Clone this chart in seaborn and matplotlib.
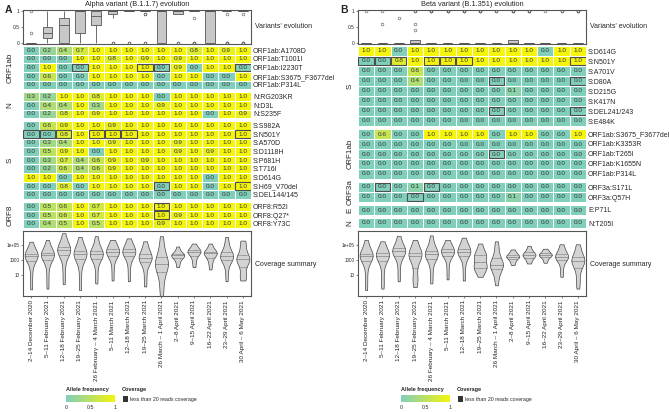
import matplotlib as mpl
import matplotlib.pyplot as plt
from matplotlib.colors import LinearSegmentedColormap
from matplotlib.patches import Rectangle
import pandas as pd
import seaborn as sns

weeks = ['2–14 December 2020', '5–11 February 2021', '12–18 February 2021',
         '19–25 February 2021', '26 February – 4 March 2021', '5–11 March 2021',
         '12–18 March 2021', '19–25 March 2021', '26 March – 1 April 2021',
         '2–8 April 2021', '9–15 April 2021', '16–22 April 2021',
         '23–29 April 2021', '30 April – 6 May 2021']

# ---- Alpha (B.1.1.7) ----
alpha_mutations = ['ORF1ab:A1708D', 'ORF1ab:T1001I', 'ORF1ab:I2230T', 'ORF1ab:S3675_F3677del', 'ORF1ab:P314L',
                   'N:RG203KR', 'N:D3L', 'N:S235F',
                   'S:S982A', 'S:N501Y', 'S:A570D', 'S:D1118H', 'S:P681H', 'S:T716I', 'S:D614G',
                   'S:H69_V70del', 'S:DEL144/145',
                   'ORF8:R52I', 'ORF8:Q27*', 'ORF8:Y73C']
alpha_genes = ['ORF1ab'] * 5 + ['N'] * 3 + ['S'] * 9 + ['ORF8'] * 3
alpha_freq = [
    [0.0, 0.2, 0.4, 0.7, 1.0, 1.0, 1.0, 1.0, 1.0, 1.0, 0.8, 1.0, 0.9, 1.0],
    [0.0, 0.0, 0.0, 1.0, 1.0, 0.8, 1.0, 0.9, 1.0, 0.9, 1.0, 1.0, 1.0, 1.0],
    [0.0, 1.0, 0.0, 0.0, 1.0, 1.0, 1.0, 1.0, 0.0, 0.9, 0.0, 1.0, 1.0, 0.0],
    [0.0, 0.6, 0.0, 0.0, 1.0, 1.0, 1.0, 1.0, 0.0, 1.0, 1.0, 0.0, 0.0, 1.0],
    [0.0, 0.0, 0.0, 0.0, 0.0, 0.0, 0.0, 0.0, 0.0, 0.0, 0.0, 0.0, 0.0, 0.0],
    [0.3, 0.2, 1.0, 1.0, 0.8, 1.0, 1.0, 1.0, 0.0, 1.0, 1.0, 1.0, 1.0, 1.0],
    [0.0, 0.4, 0.4, 1.0, 0.3, 1.0, 1.0, 1.0, 0.9, 1.0, 1.0, 1.0, 1.0, 1.0],
    [0.0, 0.2, 0.8, 1.0, 0.9, 1.0, 1.0, 1.0, 1.0, 1.0, 1.0, 0.0, 1.0, 0.9],
    [0.0, 0.6, 0.9, 1.0, 1.0, 0.9, 1.0, 1.0, 1.0, 1.0, 1.0, 1.0, 1.0, 1.0],
    [0.0, 0.0, 0.8, 1.0, 1.0, 1.0, 1.0, 1.0, 1.0, 1.0, 1.0, 1.0, 1.0, 1.0],
    [0.0, 0.3, 0.4, 1.0, 1.0, 0.9, 1.0, 1.0, 1.0, 0.9, 1.0, 1.0, 1.0, 1.0],
    [0.0, 0.5, 0.9, 1.0, 0.0, 1.0, 1.0, 1.0, 1.0, 0.9, 1.0, 0.9, 1.0, 1.0],
    [0.0, 0.3, 0.7, 0.4, 0.6, 0.9, 1.0, 0.9, 1.0, 1.0, 1.0, 1.0, 1.0, 1.0],
    [0.0, 0.2, 0.6, 0.4, 0.6, 0.9, 1.0, 1.0, 1.0, 1.0, 1.0, 1.0, 1.0, 1.0],
    [1.0, 1.0, 0.0, 1.0, 1.0, 1.0, 1.0, 1.0, 1.0, 1.0, 1.0, 0.0, 1.0, 1.0],
    [0.0, 0.0, 0.8, 0.0, 1.0, 1.0, 1.0, 1.0, 0.0, 1.0, 1.0, 0.0, 1.0, 1.0],
    [0.0, 0.0, 0.0, 0.0, 0.0, 0.0, 0.0, 0.0, 0.0, 0.0, 0.0, 0.0, 0.0, 0.0],
    [0.0, 0.5, 0.6, 1.0, 0.7, 1.0, 1.0, 1.0, 1.0, 1.0, 1.0, 1.0, 1.0, 1.0],
    [0.0, 0.5, 0.6, 1.0, 0.7, 1.0, 1.0, 1.0, 1.0, 0.9, 1.0, 1.0, 1.0, 1.0],
    [0.0, 0.4, 0.5, 1.0, 0.5, 1.0, 1.0, 1.0, 0.9, 1.0, 1.0, 1.0, 1.0, 1.0],
]
# cells with less than 20 reads coverage (mutation, week index)
alpha_lowcov = [('ORF1ab:I2230T', 3), ('ORF1ab:I2230T', 7), ('ORF1ab:I2230T', 8), ('ORF1ab:I2230T', 13),
                ('S:N501Y', 0), ('S:N501Y', 1), ('S:N501Y', 2), ('S:N501Y', 4), ('S:N501Y', 5),
                ('S:N501Y', 6), ('S:N501Y', 13), ('S:H69_V70del', 8), ('S:H69_V70del', 13),
                ('ORF8:R52I', 8), ('ORF8:Q27*', 8)]
# coverage per week, log10(reads)
alpha_coverage = [
    [-1.0, 0.5, 1.8, 2.8, 3.2, 3.4, 3.5, 3.6, 3.6, 3.7, 3.9, 4.2, 4.6, 5.45],
    [-0.9, 0.5, 1.9, 2.9, 3.3, 3.5, 3.6, 3.7, 3.7, 3.8, 4.0, 4.3, 4.8, 5.7],
    [-0.3, 1.2, 2.5, 3.5, 3.9, 4.1, 4.3, 4.3, 4.4, 4.6, 4.8, 5.2, 5.8, 6.6],
    [-1.1, 0.5, 2.0, 3.0, 3.4, 3.6, 3.7, 3.8, 3.9, 4.0, 4.3, 4.7, 5.3, 6.1],
    [-0.2, 1.0, 2.3, 3.1, 3.4, 3.6, 3.7, 3.8, 3.9, 4.0, 4.3, 4.7, 5.4, 6.2],
    [0.2, 1.5, 2.7, 3.4, 3.7, 3.9, 4.0, 4.1, 4.2, 4.3, 4.6, 4.9, 5.3, 5.7],
    [0.1, 1.4, 2.6, 3.4, 3.7, 3.9, 4.0, 4.1, 4.2, 4.3, 4.6, 4.9, 5.4, 5.9],
    [-0.6, 0.6, 1.8, 2.6, 2.9, 3.1, 3.2, 3.3, 3.4, 3.6, 3.9, 4.3, 4.9, 5.5],
    [-2.0, -0.8, 0.3, 1.2, 1.8, 2.1, 2.3, 2.5, 2.7, 3.0, 3.5, 4.1, 5.0, 6.2],
    [2.0, 2.5, 2.9, 3.2, 3.4, 3.5, 3.6, 3.6, 3.7, 3.8, 4.0, 4.3, 4.8],
    [2.0, 2.6, 3.1, 3.5, 3.8, 4.0, 4.1, 4.1, 4.2, 4.3, 4.5, 4.8, 5.2],
    [1.7, 2.4, 2.9, 3.3, 3.6, 3.8, 3.9, 3.9, 4.0, 4.1, 4.3, 4.7, 5.2],
    [0.1, 1.3, 2.3, 2.9, 3.2, 3.3, 3.4, 3.5, 3.6, 3.8, 4.1, 4.6, 5.3, 6.1],
    [0.2, 0.7, 0.7, 1.5, 2.6, 2.9, 3.0, 3.05, 3.1, 3.2, 3.4, 4.0, 4.9, 5.3, 5.6],
]

# ---- Beta (B.1.351) ----
beta_mutations = ['S:D614G', 'S:N501Y', 'S:A701V', 'S:D80A', 'S:D215G', 'S:K417N', 'S:DEL241/243', 'S:E484K',
                  'ORF1ab:S3675_F3677del', 'ORF1ab:K3353R', 'ORF1ab:T265I', 'ORF1ab:K1655N', 'ORF1ab:P314L',
                  'ORF3a:S171L', 'ORF3a:Q57H', 'E:P71L', 'N:T205I']
beta_genes = ['S'] * 8 + ['ORF1ab'] * 5 + ['ORF3a'] * 2 + ['E', 'N']
beta_freq = [
    [1.0, 1.0, 0.0, 1.0, 1.0, 1.0, 1.0, 1.0, 1.0, 1.0, 1.0, 0.0, 1.0, 1.0],
    [0.0, 0.0, 0.8, 1.0, 1.0, 1.0, 1.0, 1.0, 1.0, 1.0, 1.0, 1.0, 1.0, 1.0],
    [0.0, 0.0, 0.0, 0.6, 0.0, 0.0, 0.0, 0.0, 0.0, 0.0, 0.0, 0.0, 0.0, 0.0],
    [0.0, 0.0, 0.0, 0.4, 0.0, 0.0, 0.0, 0.0, 0.0, 0.0, 0.0, 0.0, 0.0, 0.0],
    [0.0, 0.0, 0.0, 0.0, 0.0, 0.0, 0.0, 0.0, 0.0, 0.1, 0.0, 0.0, 0.0, 0.0],
    [0.0, 0.0, 0.0, 0.0, 0.0, 0.0, 0.0, 0.0, 0.0, 0.0, 0.0, 0.0, 0.0, 0.0],
    [0.0, 0.0, 0.0, 0.0, 0.0, 0.0, 0.0, 0.0, 0.0, 0.0, 0.0, 0.0, 0.0, 0.0],
    [0.0, 0.0, 0.0, 0.0, 0.0, 0.0, 0.0, 0.0, 0.0, 0.0, 0.0, 0.0, 0.0, 0.0],
    [0.0, 0.6, 0.0, 0.0, 1.0, 1.0, 1.0, 1.0, 0.0, 1.0, 1.0, 0.0, 0.0, 1.0],
    [0.0, 0.0, 0.0, 0.0, 0.0, 0.0, 0.0, 0.0, 0.0, 0.0, 0.0, 0.0, 0.0, 0.0],
    [0.0, 0.0, 0.0, 0.0, 0.0, 0.0, 0.0, 0.0, 0.0, 0.0, 0.0, 0.0, 0.0, 0.0],
    [0.0, 0.0, 0.0, 0.0, 0.0, 0.0, 0.0, 0.0, 0.0, 0.0, 0.0, 0.0, 0.0, 0.0],
    [0.0, 0.0, 0.0, 0.0, 0.0, 0.0, 0.0, 0.0, 0.0, 0.0, 0.0, 0.0, 0.0, 0.0],
    [0.0, 0.0, 0.0, 0.1, 0.0, 0.0, 0.0, 0.0, 0.0, 0.0, 0.0, 0.0, 0.0, 0.0],
    [0.0, 0.0, 0.0, 0.0, 0.0, 0.0, 0.0, 0.0, 0.0, 0.1, 0.0, 0.0, 0.0, 0.0],
    [0.0, 0.0, 0.0, 0.0, 0.0, 0.0, 0.0, 0.0, 0.0, 0.0, 0.0, 0.0, 0.0, 0.0],
    [0.0, 0.0, 0.0, 0.0, 0.0, 0.0, 0.0, 0.0, 0.0, 0.0, 0.0, 0.0, 0.0, 0.0],
]
beta_lowcov = [('S:N501Y', 0), ('S:N501Y', 1), ('S:N501Y', 2), ('S:N501Y', 4), ('S:N501Y', 5),
               ('S:N501Y', 6), ('S:N501Y', 13), ('S:D80A', 8), ('S:D80A', 13),
               ('S:DEL241/243', 8), ('S:DEL241/243', 13), ('ORF1ab:T265I', 8),
               ('ORF3a:S171L', 1), ('ORF3a:S171L', 4), ('ORF3a:Q57H', 3)]
beta_coverage = [
    [-1.1, 0.3, 1.7, 2.8, 3.2, 3.4, 3.5, 3.5, 3.6, 3.7, 3.9, 4.3, 4.9, 5.7],
    [-0.9, 0.2, 1.5, 2.7, 3.2, 3.4, 3.5, 3.6, 3.7, 3.8, 4.0, 4.4, 4.9, 5.5],
    [0.1, 1.3, 2.6, 3.5, 3.8, 4.0, 4.1, 4.2, 4.3, 4.4, 4.6, 5.0, 5.6, 6.25],
    [-0.7, 0.3, 0.4, 1.6, 2.8, 3.3, 3.5, 3.6, 3.7, 3.8, 4.0, 4.4, 5.0, 5.7],
    [-0.2, 1.0, 2.2, 3.1, 3.4, 3.6, 3.7, 3.8, 3.9, 4.0, 4.3, 4.7, 5.4, 6.3],
    [0.35, 1.6, 2.8, 3.5, 3.8, 4.0, 4.1, 4.1, 4.2, 4.3, 4.5, 4.9, 5.3, 5.7],
    [0.2, 1.4, 2.6, 3.4, 3.8, 4.0, 4.1, 4.1, 4.2, 4.3, 4.6, 5.0, 5.5, 6.0],
    [0.7, 1.3, 1.7, 1.9, 2.1, 2.2, 2.5, 3.0, 3.4, 3.6, 3.7, 3.9, 4.5, 5.2],
    [-0.45, 0.5, 1.2, 1.7, 2.0, 2.2, 2.3, 2.4, 2.6, 2.9, 3.3, 3.9, 4.7, 5.5],
    [2.3, 2.6, 2.9, 3.1, 3.3, 3.4, 3.4, 3.5, 3.6, 3.7, 3.9, 4.1, 4.4],
    [2.5, 2.8, 3.1, 3.3, 3.5, 3.6, 3.7, 3.7, 3.8, 4.0, 4.2, 4.5, 4.9],
    [2.6, 2.9, 3.2, 3.4, 3.5, 3.6, 3.7, 3.7, 3.8, 3.9, 4.1, 4.3, 4.5],
    [0.7, 1.5, 2.3, 2.9, 3.2, 3.3, 3.4, 3.4, 3.5, 3.7, 3.9, 4.3, 4.7, 5.1],
    [-0.9, 0.0, 0.9, 1.8, 2.4, 2.7, 2.8, 2.9, 3.0, 3.1, 3.4, 3.9, 4.6, 5.1],
]

sns.set_style('white')
plt.rcParams['font.family'] = ['Liberation Sans', 'DejaVu Sans']

W, H = 669, 412
fig = plt.figure(figsize=(W / 100, H / 100), dpi=100)
cmap = LinearSegmentedColormap.from_list('allele', ['#80cfbb', '#f4f40c'])
EDGE = '#4d4d4d'


def px(x0, y0, x1, y1):
    # pixel box (from top-left) -> figure fraction rect
    return [x0 / W, 1 - y1 / H, (x1 - x0) / W, (y1 - y0) / H]


def frame(ax):
    for s in ax.spines.values():
        s.set_visible(True)
        s.set_color('#555555')
        s.set_linewidth(0.8)


def draw_panel(letter, title, mutations, genes, freq, lowcov, coverage, left, right, row_h, gap, gene_x):
    n = len(weeks)
    fig.text((left - 18) / W, 1 - 10 / H, letter, fontsize=7.5, fontweight='bold', va='center')
    fig.text((left + right) / 2 / W, 1 - 5 / H, title, fontsize=5.3, ha='center', va='center')

    # variants' evolution boxplot
    ax = fig.add_axes(px(left, 10, right, 44))
    long = pd.DataFrame(freq).melt(var_name='week', value_name='freq')
    sns.boxplot(data=long, x='week', y='freq', ax=ax, color='#c8c8c8', linecolor='#555555',
                linewidth=0.6, width=0.6, fliersize=2,
                flierprops={'marker': 'o', 'markerfacecolor': 'none', 'markeredgewidth': 0.4},
                capprops={'linewidth': 0})
    ax.set_ylim(-0.04, 1.04)
    ax.set_xlim(-0.5, n - 0.5)
    ax.set_xticks([])
    ax.set_yticks([0, 0.5, 1], ['0', '0.5', '1'])
    ax.tick_params(axis='y', labelsize=3.5, length=1.5, width=0.4, pad=1, left=True)
    ax.set_xlabel('')
    ax.set_ylabel('')
    frame(ax)
    fig.text((right + 4) / W, 1 - 27 / H, "Variants' evolution", fontsize=5, va='center')

    # heatmap, one block per gene
    y = 46
    for g in list(dict.fromkeys(genes)):
        idx = [i for i, gg in enumerate(genes) if gg == g]
        hgt = len(idx) * row_h
        hax = fig.add_axes(px(left, y, right, y + hgt))
        df = pd.DataFrame([freq[i] for i in idx], index=[mutations[i] for i in idx])
        sns.heatmap(df, ax=hax, cmap=cmap, vmin=0, vmax=1, annot=True, fmt='.1f', cbar=False,
                    linewidths=0.7, linecolor='white', yticklabels=True,
                    annot_kws={'size': 4.6, 'color': '#333333'})
        rows = list(df.index)
        for m, c in lowcov:
            if m in rows:
                hax.add_patch(Rectangle((c + 0.03, rows.index(m) + 0.06), 0.94, 0.88,
                                        fill=False, edgecolor=EDGE, lw=0.8))
        hax.yaxis.tick_right()
        hax.set_yticks([r + 0.5 for r in range(len(rows))], rows, rotation=0, fontsize=5)
        hax.tick_params(axis='y', length=0, pad=1.5)
        hax.set_xticks([])
        hax.set_xlabel('')
        hax.set_ylabel('')
        fig.text(gene_x / W, 1 - (y + hgt / 2) / H, g, fontsize=5.8, rotation=90,
                 ha='center', va='center')
        y += hgt + gap

    # coverage summary violins
    vax = fig.add_axes(px(left, 231, right, 296))
    cov = pd.DataFrame([(i, v) for i, vals in enumerate(coverage) for v in vals], columns=['week', 'cov'])
    sns.violinplot(data=cov, x='week', y='cov', ax=vax, color='#d3d3d3', linecolor='#444444',
                   linewidth=0.5, inner='quart', cut=0, density_norm='width', width=0.8,
                   bw_adjust=0.8, inner_kws={'linewidth': 0.4})
    vax.set_ylim(-1.9, 6.9)
    vax.set_xlim(-0.5, n - 0.5)
    vax.set_yticks([1, 3, 5], ['10', '1000', '1e+05'])
    vax.set_xticks(range(n), weeks, rotation=90, fontsize=4.6)
    vax.tick_params(axis='y', labelsize=3.3, length=1.5, width=0.4, pad=1, left=True)
    vax.tick_params(axis='x', length=1.5, width=0.4, pad=1.5, bottom=True)
    vax.set_xlabel('')
    vax.set_ylabel('')
    frame(vax)
    fig.text((right + 4) / W, 1 - 264 / H, 'Coverage summary', fontsize=5, va='center')

    # legends
    fig.text((left + 43) / W, 1 - 390 / H, 'Allele frequency', fontsize=4, fontweight='bold', va='center')
    cax = fig.add_axes(px(left + 43, 395, left + 92, 402))
    cb = fig.colorbar(mpl.cm.ScalarMappable(norm=mpl.colors.Normalize(0, 1), cmap=cmap),
                      cax=cax, orientation='horizontal', ticks=[0, 0.5, 1])
    cb.outline.set_visible(False)
    cb.ax.set_xticklabels(['0', '0.5', '1'])
    cb.ax.tick_params(labelsize=3.8, length=1.5, width=0.4, color='white', pad=0.8)
    fig.text((left + 99) / W, 1 - 390 / H, 'Coverage', fontsize=4, fontweight='bold', va='center')
    fig.add_artist(Rectangle(((left + 100) / W, 1 - 402 / H), 5 / W, 6 / H,
                             transform=fig.transFigure, facecolor='#333333', edgecolor='none'))
    fig.text((left + 107) / W, 1 - 399 / H, 'less than 20 reads coverage', fontsize=3.8, va='center')


draw_panel('A', 'Alpha variant (B.1.1.7) evolution', alpha_mutations, alpha_genes, alpha_freq,
           alpha_lowcov, alpha_coverage, 23, 251, (182 - 9) / 20, 3, 10)
draw_panel('B', 'Beta variant (B.1.351) evolution', beta_mutations, beta_genes, beta_freq,
           beta_lowcov, beta_coverage, 358, 586, 10, 3, 350)

fig.savefig('out.png', dpi=100)
